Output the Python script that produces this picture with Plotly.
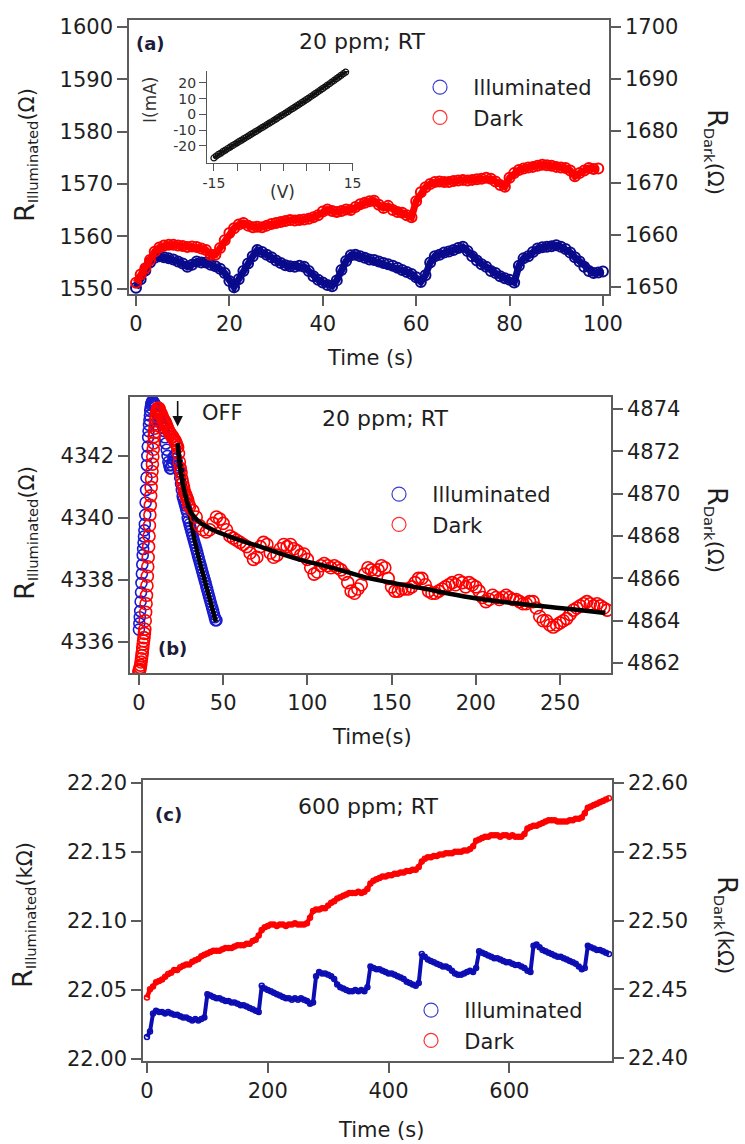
import plotly.graph_objects as go

# ---------------- Panel (a) data ----------------
t_a_ill = list(range(0, 101))
ill_a = [1550.2, 1551.8, 1553.5, 1555.0, 1555.9, 1556.2, 1556.0, 1555.8, 1555.6, 1555.2,
         1554.8, 1554.2, 1554.6, 1555.2, 1555.0, 1555.0, 1554.6, 1554.3, 1553.8, 1553.0,
         1551.5, 1550.3, 1551.8, 1553.4, 1554.8, 1556.2, 1557.4, 1557.0, 1556.5, 1556.0,
         1555.4, 1554.9, 1554.5, 1554.3, 1554.2, 1554.4, 1554.2, 1553.4, 1552.4, 1551.7,
         1551.2, 1550.7, 1550.5, 1551.6, 1553.6, 1555.3, 1556.4, 1556.5, 1556.2, 1555.9,
         1555.6, 1555.5, 1555.2, 1554.9, 1554.7, 1554.4, 1554.0, 1553.6, 1553.2, 1552.8,
         1552.2, 1551.3, 1552.6, 1555.0, 1556.2, 1556.5, 1556.9, 1557.1, 1557.4, 1557.8,
         1558.0, 1557.2, 1556.2, 1555.4, 1554.7, 1554.2, 1553.4, 1553.0, 1552.4, 1552.0,
         1551.7, 1551.2, 1554.4, 1555.8, 1556.2, 1557.0, 1557.7, 1557.9, 1558.0, 1558.1,
         1558.3, 1558.0, 1557.6, 1556.9, 1556.0, 1555.2, 1554.2, 1553.4, 1553.0, 1553.1,
         1553.3]
t_a_dark = list(range(0, 100))
dark_a = [1650.8, 1652.4, 1653.6, 1655.2, 1656.8, 1657.6, 1658.0, 1658.1, 1658.1, 1658.0,
          1657.9, 1657.7, 1657.8, 1657.7, 1657.4, 1657.1, 1656.2, 1656.2, 1657.5, 1659.0,
          1660.4, 1661.3, 1662.0, 1662.3, 1661.8, 1661.5, 1661.6, 1661.5, 1661.8, 1662.1,
          1662.3, 1662.5, 1662.7, 1662.9, 1662.8, 1662.9, 1663.0, 1663.1, 1663.4, 1663.8,
          1664.5, 1664.9, 1664.6, 1664.4, 1664.6, 1664.9, 1664.8, 1665.4, 1665.9, 1666.2,
          1666.5, 1666.6, 1665.8, 1665.2, 1665.6, 1664.8, 1664.4, 1664.3, 1663.8, 1663.4,
          1666.5, 1668.2, 1669.2, 1669.8, 1670.2, 1670.3, 1670.2, 1670.2, 1670.4, 1670.5,
          1670.6, 1670.5, 1670.6, 1670.7, 1670.8, 1671.0, 1670.8, 1670.3, 1669.6, 1669.3,
          1671.0, 1671.9, 1672.5, 1672.8, 1673.0, 1673.1, 1673.3, 1673.5, 1673.4, 1673.3,
          1673.1, 1673.0, 1672.9, 1672.4, 1671.3, 1671.9, 1672.4, 1672.9, 1672.7, 1672.8]

# inset I-V
v_in = [i * 0.5 - 15 for i in range(61)]
i_in = [-27.6, -26.4, -25.3, -24.5, -23.4, -22.6, -21.6, -20.7, -19.8, -18.9,
        -18.0, -17.1, -16.3, -15.3, -14.5, -13.6, -12.6, -11.8, -10.9, -10.0,
        -9.1, -8.2, -7.3, -6.4, -5.5, -4.6, -3.7, -2.8, -1.8, -0.9,
        0.0, 0.9, 1.8, 2.8, 3.7, 4.7, 5.6, 6.6, 7.5, 8.5,
        9.4, 10.4, 11.4, 12.4, 13.4, 14.4, 15.4, 16.4, 17.4, 18.5,
        19.5, 20.6, 21.6, 22.7, 23.7, 24.8, 25.9, 26.9, 28.0, 29.1,
        30.1]

# ---------------- Panel (b) data ----------------
t_b_ill = [i * 0.25 for i in range(41)] + [10.5 + i * 0.5 for i in range(72)]
ill_b = [4336.4, 4336.6, 4336.8, 4337.0, 4337.3, 4337.6, 4337.9, 4338.2, 4338.5, 4338.8,
         4339.0, 4339.2, 4339.4, 4339.6, 4339.8, 4340.1, 4340.5, 4340.9, 4341.3, 4341.7,
         4342.0, 4342.3, 4342.6, 4342.8, 4343.0, 4343.15, 4343.3, 4343.45, 4343.55, 4343.65,
         4343.7, 4343.75, 4343.75, 4343.75, 4343.75, 4343.72, 4343.7, 4343.68, 4343.65, 4343.62,
         4343.6,
         4343.5, 4343.4, 4343.35, 4343.3, 4343.2, 4343.1, 4343.05, 4343.0, 4342.9,
         4342.8, 4342.6, 4342.4, 4342.2, 4342.0, 4341.8, 4341.7, 4341.6, 4341.6, 4341.7,
         4341.8, 4341.9, 4342.0, 4342.0, 4341.9, 4341.8, 4341.7, 4341.6, 4341.5, 4341.3,
         4341.1, 4340.9, 4340.7, 4340.6, 4340.5, 4340.4, 4340.3, 4340.2, 4340.0, 4339.9,
         4339.8, 4339.7, 4339.6, 4339.5, 4339.4, 4339.3, 4339.2, 4339.1, 4339.0, 4338.9,
         4338.8, 4338.7, 4338.6, 4338.5, 4338.4, 4338.3, 4338.2, 4338.1, 4338.0, 4337.9,
         4337.8, 4337.7, 4337.6, 4337.5, 4337.4, 4337.3, 4337.2, 4337.1, 4337.0, 4336.9,
         4336.8, 4336.7, 4336.7]
t_b_dark = [i * 0.25 for i in range(49)] + [12.5 + i * 0.5 for i in range(36)] + list(range(32, 280, 2))
dark_b = [4861.6, 4861.65, 4861.7, 4861.8, 4861.9, 4862.05, 4862.2, 4862.35, 4862.5, 4862.7,
          4862.9, 4863.05, 4863.2, 4863.4, 4863.6, 4864.0, 4864.4, 4864.8, 4865.2, 4865.65,
          4866.1, 4866.55, 4867.0, 4867.5, 4868.0, 4868.5, 4869.0, 4869.45, 4869.9, 4870.3,
          4870.7, 4871.05, 4871.4, 4871.75, 4872.1, 4872.4, 4872.7, 4872.9, 4873.1, 4873.3,
          4873.5, 4873.65, 4873.8, 4873.9, 4874.0, 4874.03, 4874.05, 4874.03, 4874.0,
          4873.9, 4873.8, 4873.7, 4873.6, 4873.5, 4873.45, 4873.4, 4873.3, 4873.2, 4873.1,
          4873.0, 4872.9, 4872.85, 4872.8, 4872.7, 4872.7, 4872.6, 4872.55, 4872.5, 4872.4,
          4872.3, 4872.2, 4871.9, 4871.5, 4871.2, 4871.0, 4870.7, 4870.5, 4870.3, 4870.1,
          4870.0, 4869.9, 4869.8, 4869.7, 4869.5, 4869.4,
          4869.2, 4868.9, 4868.5, 4868.3, 4868.2, 4868.3, 4868.6, 4868.9, 4868.8, 4868.6,
          4868.3, 4868.0, 4867.9, 4867.8, 4867.7, 4867.6, 4867.5, 4867.2, 4866.9, 4867.0,
          4867.5, 4867.7, 4867.6, 4867.2, 4867.0, 4867.1, 4867.4, 4867.6, 4867.5, 4867.6,
          4867.4, 4867.3, 4867.1, 4867.15, 4866.9, 4866.5, 4866.2, 4866.3, 4866.6, 4866.7,
          4866.6, 4866.5, 4866.6, 4866.5, 4866.4, 4866.2, 4865.8, 4865.4, 4865.3, 4865.5,
          4865.7, 4866.2, 4866.5, 4866.4, 4866.3, 4866.4, 4866.6, 4866.5, 4866.0, 4865.6,
          4865.4, 4865.4, 4865.5, 4865.5, 4865.5, 4865.6, 4865.8, 4866.0, 4866.0, 4865.7,
          4865.4, 4865.3, 4865.3, 4865.4, 4865.5, 4865.6, 4865.7, 4865.8, 4865.7, 4865.9,
          4865.8, 4865.6, 4865.8, 4865.7, 4865.6, 4865.4, 4865.1, 4864.9, 4865.0, 4865.2,
          4865.1, 4865.0, 4865.1, 4865.2, 4865.1, 4865.0, 4865.0, 4864.9, 4864.8, 4864.8,
          4864.9, 4864.9, 4864.6, 4864.2, 4864.0, 4864.0, 4863.8, 4863.7, 4863.8, 4863.9,
          4864.0, 4864.1, 4864.3, 4864.5, 4864.6, 4864.7, 4864.8, 4864.9, 4864.8, 4864.7,
          4864.8, 4864.7, 4864.6, 4864.5]
# fits
t_fit_ill = [23, 24, 25, 26, 27, 28, 30, 33, 36, 39, 42, 45, 45.7]
fit_ill = [4342.3, 4341.9, 4341.6, 4341.3, 4341.0, 4340.7, 4340.1, 4339.3, 4338.6, 4338.0, 4337.3, 4336.8, 4336.65]
t_fit_dark = [23, 25, 27, 29, 31, 33, 36, 40, 45, 53, 62, 72, 85, 95, 115, 137, 167, 197, 226, 256, 277]
fit_dark = [4872.4, 4870.9, 4870.1, 4869.5, 4869.1, 4868.9, 4868.65, 4868.45, 4868.25, 4868.0, 4867.75,
            4867.5, 4867.15, 4866.9, 4866.5, 4866.0, 4865.55, 4865.1, 4864.8, 4864.55, 4864.36]
t_off = 23
r_off = 4342.95

# ---------------- Panel (c) data ----------------
t_c = list(range(0, 770, 5))
ill_c = [22.016, 22.020, 22.033, 22.035, 22.034, 22.034, 22.033, 22.034, 22.033, 22.032,
         22.032, 22.031, 22.030, 22.030, 22.029, 22.028, 22.029, 22.028, 22.029, 22.030,
         22.047, 22.046, 22.045, 22.044, 22.044, 22.043, 22.042, 22.042, 22.041, 22.041,
         22.040, 22.039, 22.039, 22.038, 22.037, 22.036, 22.035, 22.034,
         22.053, 22.051, 22.050, 22.049, 22.048, 22.047, 22.046, 22.045, 22.044, 22.044,
         22.043, 22.044, 22.043, 22.044, 22.043, 22.042, 22.040, 22.041,
         22.060, 22.063, 22.062, 22.062, 22.061, 22.060, 22.058, 22.054, 22.052, 22.051,
         22.050, 22.049, 22.049, 22.050, 22.049, 22.050, 22.049, 22.052,
         22.067, 22.066, 22.065, 22.065, 22.064, 22.063, 22.062, 22.062, 22.061, 22.060,
         22.059, 22.058, 22.056, 22.055, 22.054, 22.053, 22.055,
         22.076, 22.074, 22.072, 22.071, 22.070, 22.069, 22.068, 22.067, 22.067, 22.066,
         22.064, 22.062, 22.061, 22.061, 22.062, 22.063, 22.064, 22.063, 22.066,
         22.078, 22.077, 22.076, 22.075, 22.074, 22.073, 22.073, 22.072, 22.071, 22.070,
         22.070, 22.069, 22.068, 22.068, 22.067, 22.066, 22.064, 22.063,
         22.082, 22.083, 22.081, 22.079, 22.078, 22.077, 22.076, 22.075, 22.074, 22.074,
         22.073, 22.072, 22.071, 22.070, 22.069, 22.067, 22.065, 22.066,
         22.082, 22.081, 22.080, 22.079, 22.079, 22.078, 22.077, 22.076]
dark_c = [22.444, 22.450, 22.452, 22.455, 22.456, 22.457, 22.459, 22.461, 22.462, 22.464,
          22.464, 22.466, 22.467, 22.468, 22.468, 22.470, 22.471, 22.472, 22.474, 22.475,
          22.476, 22.477, 22.478, 22.478, 22.478, 22.479, 22.480, 22.480, 22.480, 22.481,
          22.482, 22.482, 22.482, 22.483, 22.483, 22.485, 22.486, 22.489,
          22.493, 22.495, 22.496, 22.497, 22.497, 22.496, 22.497, 22.497, 22.496, 22.497,
          22.497, 22.498, 22.497, 22.497, 22.497, 22.498, 22.502,
          22.507, 22.508, 22.508, 22.509, 22.509, 22.511, 22.513, 22.514, 22.516, 22.517,
          22.518, 22.519, 22.520, 22.520, 22.520, 22.521, 22.520, 22.521, 22.523,
          22.527, 22.529, 22.530, 22.531, 22.532, 22.532, 22.533, 22.533, 22.534, 22.534,
          22.535, 22.535, 22.536, 22.536, 22.537, 22.537, 22.539,
          22.543, 22.545, 22.546, 22.546, 22.547, 22.547, 22.548, 22.548, 22.549, 22.549,
          22.549, 22.550, 22.550, 22.550, 22.551, 22.551, 22.552, 22.554,
          22.558, 22.559, 22.560, 22.561, 22.561, 22.562, 22.562, 22.562, 22.561, 22.562,
          22.562, 22.561, 22.562, 22.561, 22.561, 22.561, 22.563,
          22.567, 22.568, 22.569, 22.569, 22.570, 22.571, 22.572, 22.573, 22.573, 22.573,
          22.572, 22.572, 22.572, 22.572, 22.573, 22.573, 22.574, 22.574, 22.575, 22.578,
          22.582, 22.583, 22.584, 22.585, 22.586, 22.587, 22.588, 22.589]

assert len(t_a_ill) == len(ill_a) and len(t_a_dark) == len(dark_a)
assert len(v_in) == len(i_in)
assert len(t_b_ill) == len(ill_b), (len(t_b_ill), len(ill_b))
assert len(t_b_dark) == len(dark_b), (len(t_b_dark), len(dark_b))
assert len(t_c) == len(ill_c) == len(dark_c), (len(t_c), len(ill_c), len(dark_c))

# ---------------- figure ----------------
W, H = 745, 1144
FONT = "DejaVu Sans"
AX = "#5c5c5c"
BLUE_A = "#0a0a8c"
BLUE_B = "#1a1ad0"
BLUE_C = "#0d0db4"
RED = "#ff0000"


def px(x):
    return x / W


def py(y):
    return 1 - y / H


fig = go.Figure()


def band(x, y, xa, ya, col, lw, msize, mlw):
    # a thick line beneath open-circle markers reproduces the dense marker band
    if lw > 0:
        fig.add_trace(go.Scatter(x=x, y=y, mode="lines", xaxis=xa, yaxis=ya, showlegend=False,
                                 line=dict(color=col, width=lw)))
    fig.add_trace(go.Scatter(x=x, y=y, mode="markers", xaxis=xa, yaxis=ya, showlegend=False,
                             marker=dict(symbol="circle-open", size=msize, color=col,
                                         line=dict(width=mlw, color=col))))


# panel (a)
band(t_a_ill, ill_a, "x", "y", BLUE_A, 7, 10, 2)
band(t_a_dark, dark_a, "x", "y2", RED, 7, 10, 2)
fig.add_trace(go.Scatter(x=v_in, y=i_in, mode="lines+markers", xaxis="x2", yaxis="y3", showlegend=False,
                         cliponaxis=False, line=dict(color="#111", width=3),
                         marker=dict(symbol="circle-open", size=6, color="#111", line=dict(width=1.2, color="#111"))))
# panel (b)
band(t_b_dark, dark_b, "x3", "y5", RED, 0, 12, 1.6)
band(t_b_ill, ill_b, "x3", "y4", BLUE_B, 0, 11, 1.6)
fig.add_trace(go.Scatter(x=t_fit_ill, y=fit_ill, mode="lines", xaxis="x3", yaxis="y4", showlegend=False,
                         line=dict(color="black", width=4.5)))
fig.add_trace(go.Scatter(x=t_fit_dark, y=fit_dark, mode="lines", xaxis="x3", yaxis="y5", showlegend=False,
                         line=dict(color="black", width=4.5, shape="spline")))
# panel (c)
band(t_c, dark_c, "x4", "y7", RED, 4.5, 5, 1.5)
band(t_c, ill_c, "x4", "y6", BLUE_C, 4, 5, 1.5)

# legend entries
for leg, xa, ya in [("legend", "x", "y"), ("legend2", "x3", "y4"), ("legend3", "x4", "y6")]:
    for name, col in [("Illuminated", "#3a3ad0"), ("Dark", "#ff3030")]:
        fig.add_trace(go.Scatter(x=[None], y=[None], mode="markers", name="&nbsp;&nbsp;" + name,
                                 xaxis=xa, yaxis=ya, legend=leg, showlegend=True,
                                 marker=dict(symbol="circle-open", size=14, color=col, line=dict(width=1.2, color=col))))

tickfont = dict(family=FONT, size=21, color="#1e1e1e")
base = dict(showline=True, linecolor=AX, linewidth=1.5, ticks="outside", ticklen=10, tickwidth=1.5,
            tickcolor=AX, showgrid=False, zeroline=False, tickfont=tickfont)
insetfont = dict(family=FONT, size=14, color="#333")

layout = dict(
    width=W, height=H, margin=dict(l=0, r=0, t=0, b=0, autoexpand=False),
    paper_bgcolor="white", plot_bgcolor="white",
    font=dict(family=FONT, color="#1e1e1e"),
    # (a)
    xaxis=dict(base, domain=[px(129), px(609)], range=[-1.5, 101.3], tickvals=[0, 20, 40, 60, 80, 100],
               anchor="y", mirror=True),
    yaxis=dict(base, domain=[py(294), py(20)], range=[1549.0, 1601.3], tickvals=[1550, 1560, 1570, 1580, 1590, 1600],
               anchor="x"),
    yaxis2=dict(base, overlaying="y", side="right", anchor="x", range=[1648.65, 1701.35],
                tickvals=[1650, 1660, 1670, 1680, 1690, 1700]),
    # inset
    xaxis2=dict(showline=True, linecolor="#555", linewidth=1.3, ticks="outside", ticklen=7, tickwidth=1.3,
                tickcolor="#555", showgrid=False, zeroline=False, domain=[px(207), px(353)], range=[-16.5, 15.1],
                tickvals=[-15, -10, -5, 0, 5, 10, 15], ticktext=["-15", "", "", "", "", "", "15"],
                tickfont=insetfont, anchor="y3"),
    yaxis3=dict(showline=True, linecolor="#555", linewidth=1.3, ticks="outside", ticklen=7, tickwidth=1.3,
                tickcolor="#555", showgrid=False, zeroline=False, domain=[py(163), py(71)], range=[-30.8, 27.6],
                tickvals=[-20, -10, 0, 10, 20], ticktext=["-20", "-10", "0", "10", "20"],
                tickfont=insetfont, anchor="x2"),
    # (b)
    xaxis3=dict(base, domain=[px(130), px(611)], range=[-5.3, 280.3], tickvals=[0, 50, 100, 150, 200, 250],
                anchor="y4", mirror=True),
    yaxis4=dict(base, domain=[py(673), py(397)], range=[4335.0, 4343.9], tickvals=[4336, 4338, 4340, 4342],
                anchor="x3"),
    yaxis5=dict(base, overlaying="y4", side="right", anchor="x3", range=[4861.53, 4874.57],
                tickvals=[4862, 4864, 4866, 4868, 4870, 4872, 4874]),
    # (c)
    xaxis4=dict(base, domain=[px(143), px(612)], range=[-6.6, 770], tickvals=[0, 200, 400, 600],
                anchor="y6", mirror=True),
    yaxis6=dict(base, domain=[py(1061), py(780)], range=[21.9986, 22.202],
                tickvals=[22.00, 22.05, 22.10, 22.15, 22.20], tickformat=".2f", anchor="x4"),
    yaxis7=dict(base, overlaying="y6", side="right", anchor="x4", range=[22.3978, 22.6022],
                tickvals=[22.40, 22.45, 22.50, 22.55, 22.60], tickformat=".2f"),
)

legfont = dict(family=FONT, size=21, color="#1e1e1e")
layout["legend"] = dict(x=px(420), y=py(67), xanchor="left", yanchor="top", bgcolor="rgba(0,0,0,0)",
                        font=legfont, tracegroupgap=0)
layout["legend2"] = dict(x=px(379), y=py(474), xanchor="left", yanchor="top", bgcolor="rgba(0,0,0,0)",
                         font=legfont, tracegroupgap=0)
layout["legend3"] = dict(x=px(411), y=py(990), xanchor="left", yanchor="top", bgcolor="rgba(0,0,0,0)",
                         font=legfont, tracegroupgap=0)

fig.update_layout(**layout)

ann = []


def txt(text, x, y, size=21, angle=0, color="#1e1e1e", bold=False):
    if bold:
        text = "<b>" + text + "</b>"
    ann.append(dict(text=text, x=px(x), y=py(y), xref="paper", yref="paper", showarrow=False,
                    xanchor="center", yanchor="middle", textangle=angle,
                    font=dict(family=FONT, size=size, color=color)))


RBIG = "<span style='font-size:27px'>R</span>"
# (a)
txt("(a)", 150, 44, size=18, color="#1c1c3a", bold=True)
txt("20 ppm; RT", 362, 42, size=22)
txt("Time (s)", 370, 358, size=21)
txt(RBIG + "<sub>Illuminated</sub>(Ω)", 25, 155, size=21, angle=-90)
txt(RBIG + "<sub>Dark</sub>(Ω)", 717, 152, size=21, angle=90)
txt("I(mA)", 150, 100, size=17, angle=-90, color="#333")
txt("(V)", 282, 192, size=17, color="#333")
# (b)
txt("(b)", 172, 648, size=18, color="#1c1c3a", bold=True)
txt("OFF", 222, 413, size=21)
txt("20 ppm; RT", 385, 418, size=22)
txt("Time(s)", 372, 737, size=21)
txt(RBIG + "<sub>Illuminated</sub>(Ω)", 25, 533, size=21, angle=-90)
txt(RBIG + "<sub>Dark</sub>(Ω)", 717, 530, size=21, angle=90)
# (c)
txt("(c)", 168, 814, size=18, color="#1c1c3a", bold=True)
txt("600 ppm; RT", 368, 806, size=22)
txt("Time (s)", 381, 1130, size=21)
txt(RBIG + "<sub>Illuminated</sub>(kΩ)", 23, 915, size=21, angle=-90)
txt(RBIG + "<sub>Dark</sub>(kΩ)", 727, 925, size=21, angle=90)

# OFF arrow
ann.append(dict(text="", x=t_off, y=r_off, xref="x3", yref="y4", showarrow=True, ax=0, ay=-27,
                arrowhead=2, arrowsize=1.3, arrowwidth=1.6, arrowcolor="#111"))

fig.update_layout(annotations=ann)

fig.write_html("out.html", include_plotlyjs=True, config={"displayModeBar": False},
               post_script="document.body.style.margin='0px';")
